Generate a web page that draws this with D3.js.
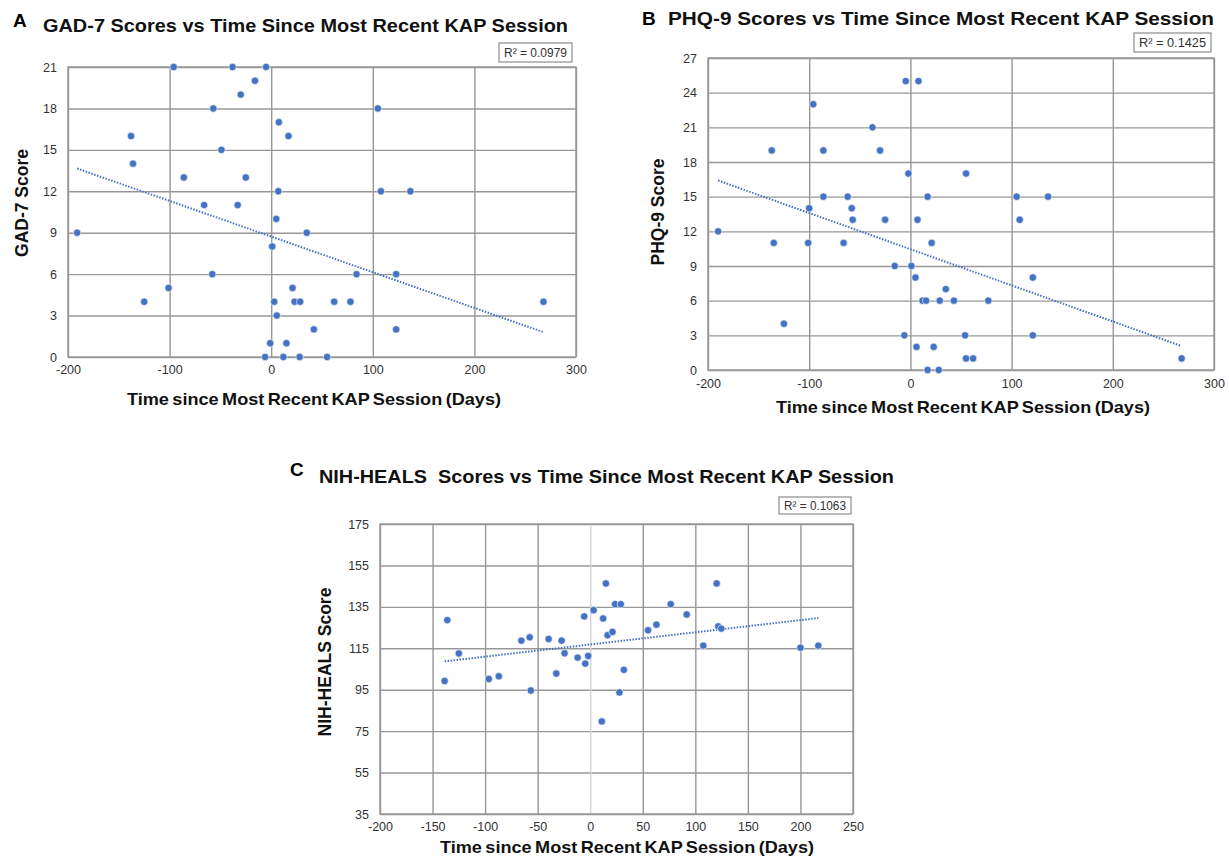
<!DOCTYPE html>
<html>
<head>
<meta charset="utf-8">
<script src="https://cdn.jsdelivr.net/npm/d3@7"></script>
<style>
    body { margin: 0; background: #fff; }
    text { font-family: "Liberation Sans", Arial, sans-serif; }
</style>
</head>
<body>
<svg id="chart" width="1229" height="856"></svg>
<script>
// panel A: GAD-7
const gadDays = [-96, -38, -5, -16, -30, -57, 105, 7.5, -138, 17, -49, -136, -86, -25, 7, 108, 137, -66, -33, 5,
    -191, 35, 1, -58, 84, 123, -101, 21, -125, 3, 23, 28.5, 62, 78, 268, 5.5, 42, 123, -1, 15, -6, 12, 28, 55];
const gadScores = [21, 21, 21, 20, 19, 18, 18, 17, 16, 16, 15, 14, 13, 13, 12, 12, 12, 11, 11, 10,
    9, 9, 8, 6, 6, 6, 5, 5, 4, 4, 4, 4, 4, 4, 4, 3, 2, 2, 1, 1, 0, 0, 0, 0];
const gadTrend = [[-191, 13.65], [268, 1.8]];

// panel B: PHQ-9
const phqDays = [-4.6, 8, -96, -37.5, -137, -86, -30, -2, 55, -86, -62, 17, 105, 136, -100, -58, -57, -25, 7, 108,
    -190, -135, -101, -66, 21, -15.5, 1, 5, 121, 35, 12, 15.5, 29, 43, 77, -125, -6, 54, 121, 6, 23, 55, 62, 268, 17, 28];
const phqScores = [25, 25, 23, 21, 19, 19, 19, 17, 17, 15, 15, 15, 15, 15, 14, 14, 13, 13, 13, 13,
    12, 11, 11, 11, 11, 9, 9, 8, 8, 7, 6, 6, 6, 6, 6, 4, 3, 3, 3, 2, 2, 1, 1, 1, 0, 0];
const phqTrend = [[-190, 16.4], [267, 2.1]];

// panel C: NIH-HEALS
const healsDays = [-138.5, -136, -125, -96.5, -87, -65.5, -57.6, -56.5, -39.6, -32.3, -27.2, -24.4, -12, -5.7, -4.7, -1.9,
    3.2, 11, 12.3, 14.9, 16.5, 21.2, 23.7, 27.8, 29.1, 32, 55, 63, 76.6, 91.8, 107.6, 120.3, 121.8, 124.7, 200, 217];
const healsScores = [99.2, 128.6, 112.5, 100.2, 101.5, 118.7, 120.3, 94.6, 119.5, 102.8, 118.7, 112.6, 110.5, 130.4, 107.6, 111.3,
    133.4, 79.7, 129.4, 146.3, 121.3, 122.9, 136.3, 93.7, 136.3, 104.6, 123.7, 126.4, 136.3, 131.3, 116.3, 146.3, 125.6, 124.5, 115.3, 116.3];
const healsTrend = [[-138.5, 108.7], [217, 129.6]];

const xTicksAB = [-200, -100, 0, 100, 200, 300];
const xTicksC = [-200, -150, -100, -50, 0, 50, 100, 150, 200, 250];
const gadTicks = [0, 3, 6, 9, 12, 15, 18, 21];
const phqTicks = [0, 3, 6, 9, 12, 15, 18, 21, 24, 27];
const healsTicks = [35, 55, 75, 95, 115, 135, 155, 175];

const xLabel = "Time since Most Recent KAP Session (Days)";

const panels = [
    {
        letter: "A", title: "GAD-7 Scores vs Time Since Most Recent KAP Session", yLabel: "GAD-7 Score", r2: "R² = 0.0979",
        days: gadDays, scores: gadScores, trend: gadTrend, xTicks: xTicksAB, yTicks: gadTicks,
        left: 68, right: 576, top: 67, bottom: 357,
        letterPos: [13, 27], titlePos: [43, 32], titleLen: 525,
        r2Box: [499, 43, 73, 19], yLabelPos: [22, 203], xLabelPos: [314, 405], xTickY: 377, zeroLight: false
    },
    {
        letter: "B", title: "PHQ-9 Scores vs Time Since Most Recent KAP Session", yLabel: "PHQ-9 Score", r2: "R² = 0.1425",
        days: phqDays, scores: phqScores, trend: phqTrend, xTicks: xTicksAB, yTicks: phqTicks,
        left: 708, right: 1214, top: 58, bottom: 370,
        letterPos: [642, 25], titlePos: [668, 25], titleLen: 546,
        r2Box: [1134, 33, 77, 19], yLabelPos: [658, 212], xLabelPos: [963, 413], xTickY: 391, zeroLight: false
    },
    {
        letter: "C", title: "NIH-HEALS  Scores vs Time Since Most Recent KAP Session", yLabel: "NIH-HEALS Score", r2: "R² = 0.1063",
        days: healsDays, scores: healsScores, trend: healsTrend, xTicks: xTicksC, yTicks: healsTicks,
        left: 380, right: 853, top: 524, bottom: 814,
        letterPos: [290, 476], titlePos: [319, 483], titleLen: 575,
        r2Box: [779, 497, 72, 17], yLabelPos: [325, 662], xLabelPos: [627, 853], xTickY: 834, zeroLight: true
    }
];

const svg = d3.select("#chart");
const gridColor = "#979797";
const dotColor = "#4472C4";

panels.forEach(p => {
    const g = svg.append("g");

    const x = d3.scaleLinear()
        .domain([p.xTicks[0], p.xTicks[p.xTicks.length - 1]])
        .range([p.left, p.right]);
    const y = d3.scaleLinear()
        .domain([p.yTicks[0], p.yTicks[p.yTicks.length - 1]])
        .range([p.bottom, p.top]);

    // horizontal grid
    g.append("g")
        .attr("transform", `translate(${p.left}, 0)`)
        .call(d3.axisLeft(y).tickValues(p.yTicks).tickSize(-(p.right - p.left)).tickFormat(""))
        .call(a => a.select(".domain").remove())
        .call(a => a.selectAll("line").attr("stroke", gridColor).attr("stroke-width", 1.4));

    // vertical grid
    g.append("g")
        .attr("transform", `translate(0, ${p.bottom})`)
        .call(d3.axisBottom(x).tickValues(p.xTicks).tickSize(-(p.bottom - p.top)).tickFormat(""))
        .call(a => a.select(".domain").remove())
        .call(a => a.selectAll("line")
            .attr("stroke", d => (p.zeroLight && d === 0) ? "#d4d4d4" : gridColor)
            .attr("stroke-width", 1.4));

    // plot border
    g.append("rect")
        .attr("x", p.left).attr("y", p.top)
        .attr("width", p.right - p.left).attr("height", p.bottom - p.top)
        .attr("fill", "none").attr("stroke", gridColor).attr("stroke-width", 1.4);

    // tick labels (plain hyphen for negatives, as in the original)
    g.append("g")
        .attr("transform", `translate(${p.left - 11}, 0)`)
        .call(d3.axisLeft(y).tickValues(p.yTicks).tickSize(0).tickPadding(0).tickFormat(d => String(d)))
        .call(a => a.select(".domain").remove())
        .call(a => a.selectAll("text").attr("font-size", 12.5).attr("fill", "#333")
            .attr("font-family", "'Liberation Sans', Arial, sans-serif"));

    g.append("g")
        .attr("transform", `translate(0, ${p.xTickY - 12})`)
        .call(d3.axisBottom(x).tickValues(p.xTicks).tickSize(0).tickPadding(0).tickFormat(d => String(d)))
        .call(a => a.select(".domain").remove())
        .call(a => a.selectAll("text").attr("font-size", 12.5).attr("fill", "#333")
            .attr("font-family", "'Liberation Sans', Arial, sans-serif"));

    // trend line
    g.append("line")
        .attr("x1", x(p.trend[0][0])).attr("y1", y(p.trend[0][1]))
        .attr("x2", x(p.trend[1][0])).attr("y2", y(p.trend[1][1]))
        .attr("stroke", dotColor).attr("stroke-width", 2)
        .attr("stroke-dasharray", "1.5,1.5");

    // points
    g.selectAll(".dot")
        .data(p.days.map((d, i) => ({ day: d, score: p.scores[i] })))
        .join("circle")
        .attr("class", "dot")
        .attr("cx", d => x(d.day))
        .attr("cy", d => y(d.score))
        .attr("r", 3.7)
        .attr("fill", dotColor)
        .attr("stroke", "#fff")
        .attr("stroke-width", 0.6);

    // R² box
    g.append("rect")
        .attr("x", p.r2Box[0]).attr("y", p.r2Box[1])
        .attr("width", p.r2Box[2]).attr("height", p.r2Box[3])
        .attr("fill", "#fff").attr("stroke", "#8c8c8c").attr("stroke-width", 1.2);
    g.append("text")
        .attr("x", p.r2Box[0] + p.r2Box[2] / 2)
        .attr("y", p.r2Box[1] + p.r2Box[3] / 2 + 4.5)
        .attr("text-anchor", "middle")
        .attr("font-size", 12.5)
        .attr("fill", "#333")
        .attr("textLength", p.r2Box[2] - 10)
        .attr("lengthAdjust", "spacingAndGlyphs")
        .text(p.r2);

    // titles
    g.append("text")
        .attr("x", p.letterPos[0]).attr("y", p.letterPos[1])
        .attr("font-size", 19).attr("font-weight", "bold")
        .text(p.letter);
    g.append("text")
        .attr("x", p.titlePos[0]).attr("y", p.titlePos[1])
        .attr("font-size", 19).attr("font-weight", "bold")
        .attr("fill", "#111")
        .style("white-space", "pre")
        .attr("textLength", p.titleLen)
        .attr("lengthAdjust", "spacingAndGlyphs")
        .text(p.title);

    // axis labels
    g.append("text")
        .attr("transform", `translate(${p.yLabelPos[0] + 6}, ${p.yLabelPos[1]}) rotate(-90)`)
        .attr("text-anchor", "middle")
        .attr("font-size", 17.5).attr("font-weight", "bold")
        .attr("fill", "#111")
        .text(p.yLabel);
    g.append("text")
        .attr("x", p.xLabelPos[0]).attr("y", p.xLabelPos[1])
        .attr("text-anchor", "middle")
        .attr("font-size", 17).attr("font-weight", "bold")
        .attr("fill", "#111")
        .attr("word-spacing", -1.5)
        .attr("textLength", 374)
        .attr("lengthAdjust", "spacingAndGlyphs")
        .text(xLabel);
});
</script>
</body>
</html>
